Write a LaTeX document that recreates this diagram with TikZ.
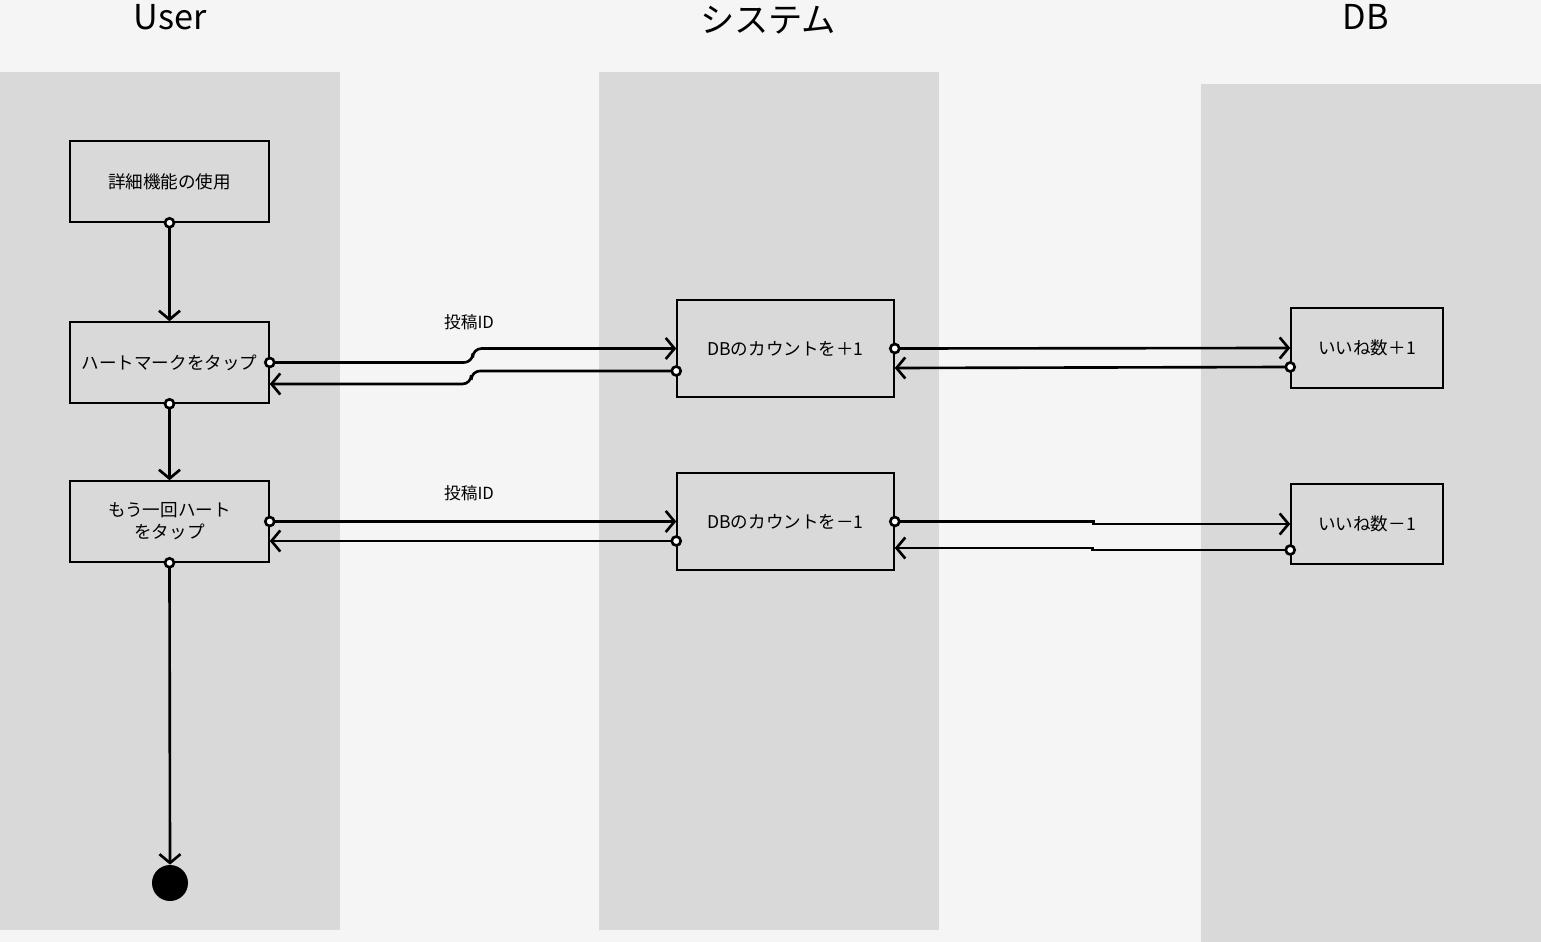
\documentclass[tikz,border=0pt]{standalone}
\usepackage{fontspec}
\setmainfont{Noto Sans CJK JP}
\usetikzlibrary{arrows.meta,positioning}

\definecolor{bgGray}{HTML}{F5F5F5}
\definecolor{laneGray}{HTML}{D9D9D9}

\begin{document}
\begin{tikzpicture}[
      x=0.02cm, y=-0.02cm,
      lane/.style={fill=laneGray},
      head/.style={anchor=base, font=\fontsize{19.5}{23}\selectfont},
      box/.style={draw, line width=0.9pt, fill=laneGray, align=center, inner sep=2pt,
                  minimum width=3.98cm, minimum height=1.62cm, font=\fontsize{10}{12.5}\selectfont},
      sysbox/.style={box, minimum width=4.34cm, minimum height=1.94cm},
      dbbox/.style={box, minimum width=3.04cm, minimum height=1.6cm},
      endpt/.style={circle, fill=black, minimum size=0.72cm, inner sep=0pt},
      lbl/.style={font=\fontsize{9.5}{11}\selectfont},
      conn/.style={line width=1.5pt, rounded corners=5pt, shorten <=-3.3pt,
                   {Circle[open, fill=white, length=6.6pt]}-{Straight Barb[length=5pt, width=12pt]}}
    ]

    % ---- background and lanes ----
    \fill[bgGray] (0,0) rectangle (1541,942);
    \useasboundingbox (0,0) rectangle (1541,942);
    \fill[lane] (0,72) rectangle (340,930);
    \fill[lane] (599,72) rectangle (939,930);
    \fill[lane] (1201,84) rectangle (1541,942);

    % ---- lane centres ----
    \def\xu{169.5}
    \def\xs{785.5}
    \def\xd{1367}

    % ================= headers =================
    \node[head] (hUser) at (170,30) {User};
    \node[head] (hSys) at (768,33) {システム};
    \node[head] (hDB) at (1366,30) {DB};

    % ================= User lane =================
    \node[box] (detail) at (\xu,181.5) {詳細機能の使用};
    \node[box] (tap) at (\xu,362.5) {ハートマークをタップ};
    \node[box] (retap) at (\xu,521.5) {もう一回ハート\\をタップ};
    \node[endpt] (fin) at (170,883) {};

    \draw[conn] (detail.south) -- (tap.north);
    \draw[conn] (tap.south) -- (retap.north);
    \draw[conn] (retap.south) -- (fin.north);

    % ================= システム lane =================
    \node[sysbox] (plus) at (\xs,348.5) {DBのカウントを＋1};
    \node[sysbox] (minus) at (\xs,521.5) {DBのカウントを－1};

    % ================= DB lane =================
    \node[dbbox] (likeUp) at (\xd,348) {いいね数＋1};
    \node[dbbox] (likeDown) at (\xd,524) {いいね数－1};

    % ---- user <-> system ----
    \node[lbl] (idA) at (469,322) {投稿ID};
    \node[lbl] (idB) at (469,493) {投稿ID};

    \draw[conn] (tap.east) -- ++(203,0) |- (plus.west);
    \draw[conn] ([yshift=-0.45cm]plus.west) -- ++(-205,0) |- ([yshift=-0.43cm]tap.east);

    \draw[conn] (retap.east) -- (minus.west);
    \draw[conn] ([yshift=-0.39cm]minus.west) -- ([yshift=-0.39cm]retap.east);

    % ---- system <-> DB ----
    \draw[conn] (plus.east) -- (likeUp.west);
    \draw[conn] ([yshift=-0.38cm]likeUp.west) -- ([yshift=-0.39cm]plus.east);

    \draw[conn, sharp corners] (minus.east) -- ++(199,0) |- (likeDown.west);
    \draw[conn, sharp corners] ([yshift=-0.52cm]likeDown.west) -- ++(-198,0) |- ([yshift=-0.53cm]minus.east);

\end{tikzpicture}
\end{document}
